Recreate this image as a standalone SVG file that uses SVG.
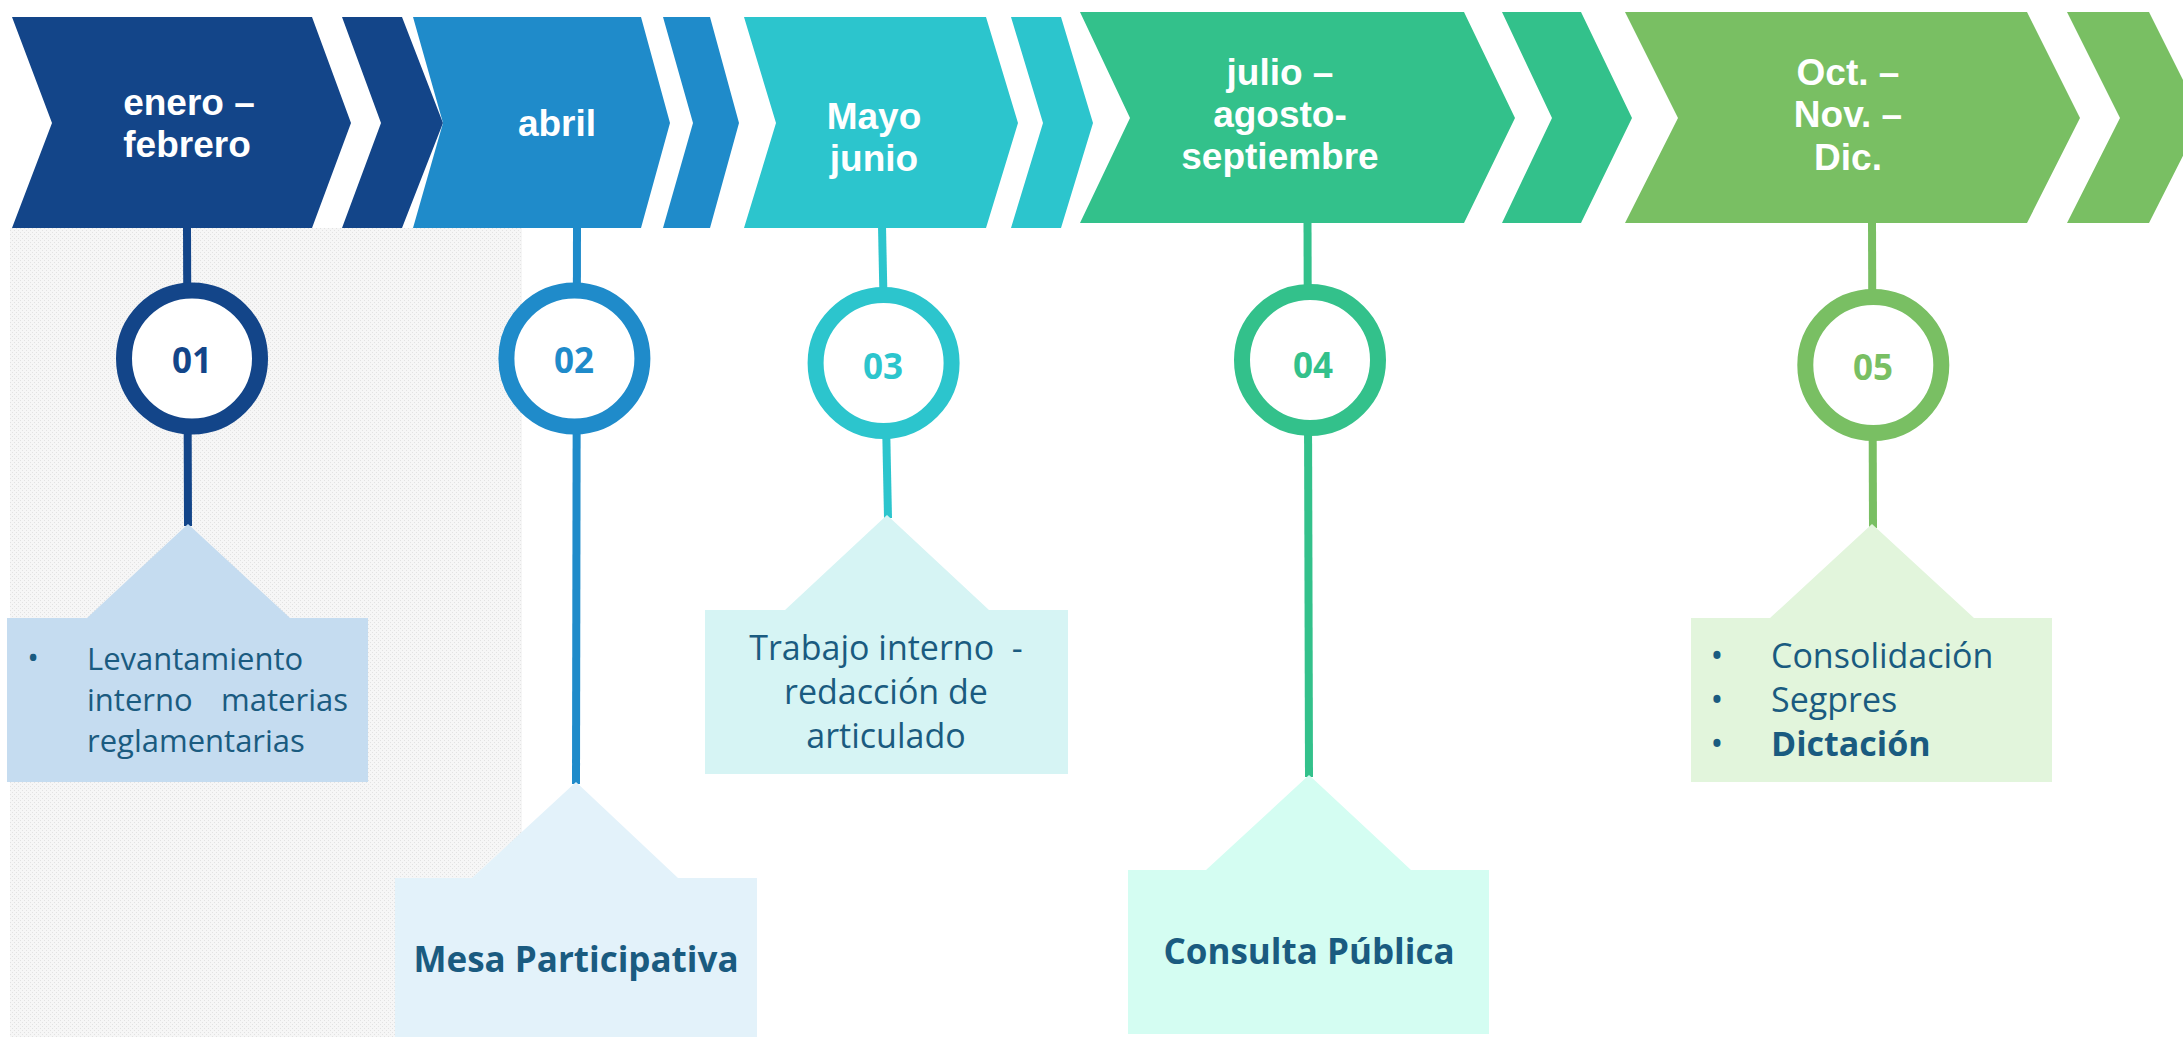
<svg xmlns="http://www.w3.org/2000/svg" width="2183" height="1037" viewBox="0 0 2183 1037">
<defs>
<pattern id="dots" width="4" height="4" patternUnits="userSpaceOnUse">
<rect width="4" height="4" fill="#f6f6f6"/>
<rect x="0" y="0" width="1" height="1" fill="#e2e2e2"/>
<rect x="2" y="2" width="1" height="1" fill="#e2e2e2"/>
</pattern>
</defs>
<style>
.ch{font-family:"Liberation Sans","Open Sans",sans-serif;font-weight:700;font-size:37px;fill:#ffffff;text-anchor:middle}
.num{font-family:"Open Sans","Liberation Sans",sans-serif;font-weight:700;font-size:35px;text-anchor:middle}
.ring{fill:#ffffff;stroke-width:16}
.body{font-family:"Open Sans","Liberation Sans",sans-serif;fill:#1a5b80;white-space:pre}
.bold{font-weight:700}
.conn{fill:none;stroke-width:8}
</style>
<rect x="10" y="228" width="512" height="809" fill="url(#dots)"/>

<g id="connectors">
<line class="conn" stroke="#134589" x1="187" y1="226" x2="188" y2="526"/>
<line class="conn" stroke="#1f8bca" x1="577" y1="226" x2="576" y2="784"/>
<line class="conn" stroke="#2cc5cd" x1="882" y1="226" x2="888" y2="518"/>
<line class="conn" stroke="#33c18b" x1="1307.5" y1="221" x2="1309" y2="777"/>
<line class="conn" stroke="#79bf63" x1="1872" y1="221" x2="1873" y2="528"/>
</g>

<g id="phase1">
<polygon fill="#134589" points="12,17 312,17 351,123 312,228 12,228 52,123"/>
<polygon fill="#134589" points="342,17 402,17 443,123 402,228 342,228 381,123"/>
<text class="ch" x="189" y="115">enero –</text>
<text class="ch" x="187" y="157">febrero</text>
<circle class="ring" stroke="#134589" cx="192" cy="358.5" r="68"/>
<text class="num" fill="#134589" x="192" y="373">01</text>
<path fill="#c5dcf0" d="M7,618 H87 L188,524 L290,618 H368 V782 H7 Z"/>
<text class="body" font-size="31" x="33" y="669" text-anchor="middle">•</text>
<text class="body" font-size="31" x="87" y="670">Levantamiento</text>
<text class="body" font-size="31" x="87" y="711">interno</text>
<text class="body" font-size="31" x="348" y="711" text-anchor="end">materias</text>
<text class="body" font-size="31" x="87" y="752">reglamentarias</text>
</g>

<g id="phase2">
<polygon fill="#1f8bca" points="413,17 641,17 670,123 641,228 413,228 443,123"/>
<polygon fill="#1f8bca" points="663,17 710,17 739,123 710,228 663,228 693,123"/>
<text class="ch" x="557" y="136">abril</text>
<circle class="ring" stroke="#1f8bca" cx="574.4" cy="358.5" r="68"/>
<text class="num" fill="#1f8bca" x="574" y="373">02</text>
<path fill="#e3f2fa" d="M395,878 H472 L576,782 L678,878 H757 V1037 H395 Z"/>
<text class="body bold" font-size="35" x="576" y="972" text-anchor="middle">Mesa Participativa</text>
</g>

<g id="phase3">
<polygon fill="#2cc5cd" points="744,17 986,17 1018,123 986,228 744,228 776,123"/>
<polygon fill="#2cc5cd" points="1011,17 1061,17 1093,123 1061,228 1011,228 1043,123"/>
<text class="ch" x="874" y="129">Mayo</text>
<text class="ch" x="874" y="171">junio</text>
<circle class="ring" stroke="#2cc5cd" cx="883.6" cy="363" r="68"/>
<text class="num" fill="#2cc5cd" x="883" y="379">03</text>
<path fill="#d6f4f4" d="M705,610 H785 L887,515 L989,610 H1068 V774 H705 Z"/>
<text class="body" font-size="34" x="886" y="660" text-anchor="middle">Trabajo interno  -</text>
<text class="body" font-size="34" x="886" y="704" text-anchor="middle">redacción de</text>
<text class="body" font-size="34" x="886" y="748" text-anchor="middle">articulado</text>
</g>

<g id="phase4">
<polygon fill="#33c18b" points="1080,12 1464,12 1515,118 1464,223 1080,223 1130,118"/>
<polygon fill="#33c18b" points="1502,12 1581,12 1632,118 1581,223 1502,223 1552,118"/>
<text class="ch" x="1280" y="85">julio –</text>
<text class="ch" x="1280" y="127">agosto-</text>
<text class="ch" x="1280" y="169">septiembre</text>
<circle class="ring" stroke="#33c18b" cx="1310" cy="360" r="68"/>
<text class="num" fill="#33c18b" x="1313" y="378">04</text>
<path fill="#d4fdf2" d="M1128,870 H1206 L1309,775 L1411,870 H1489 V1034 H1128 Z"/>
<text class="body bold" font-size="35" x="1309" y="964" text-anchor="middle">Consulta Pública</text>
</g>

<g id="phase5">
<polygon fill="#79bf63" points="1625,12 2027,12 2080,118 2027,223 1625,223 1678,118"/>
<polygon fill="#79bf63" points="2067,12 2149,12 2202,118 2149,223 2067,223 2120,118"/>
<text class="ch" x="1848" y="85">Oct. –</text>
<text class="ch" x="1848" y="127">Nov. –</text>
<text class="ch" x="1848" y="170">Dic.</text>
<circle class="ring" stroke="#79bf63" cx="1873.3" cy="365" r="68"/>
<text class="num" fill="#79bf63" x="1873" y="380">05</text>
<path fill="#e2f5dc" d="M1691,618 H1770 L1872,524 L1974,618 H2052 V782 H1691 Z"/>
<text class="body" font-size="34" x="1717" y="668" text-anchor="middle">•</text>
<text class="body" font-size="34" x="1717" y="712" text-anchor="middle">•</text>
<text class="body" font-size="34" x="1717" y="756" text-anchor="middle">•</text>
<text class="body" font-size="34" x="1771" y="668">Consolidación</text>
<text class="body" font-size="34" x="1771" y="712">Segpres</text>
<text class="body bold" font-size="34" x="1771" y="756">Dictación</text>
</g>
</svg>
